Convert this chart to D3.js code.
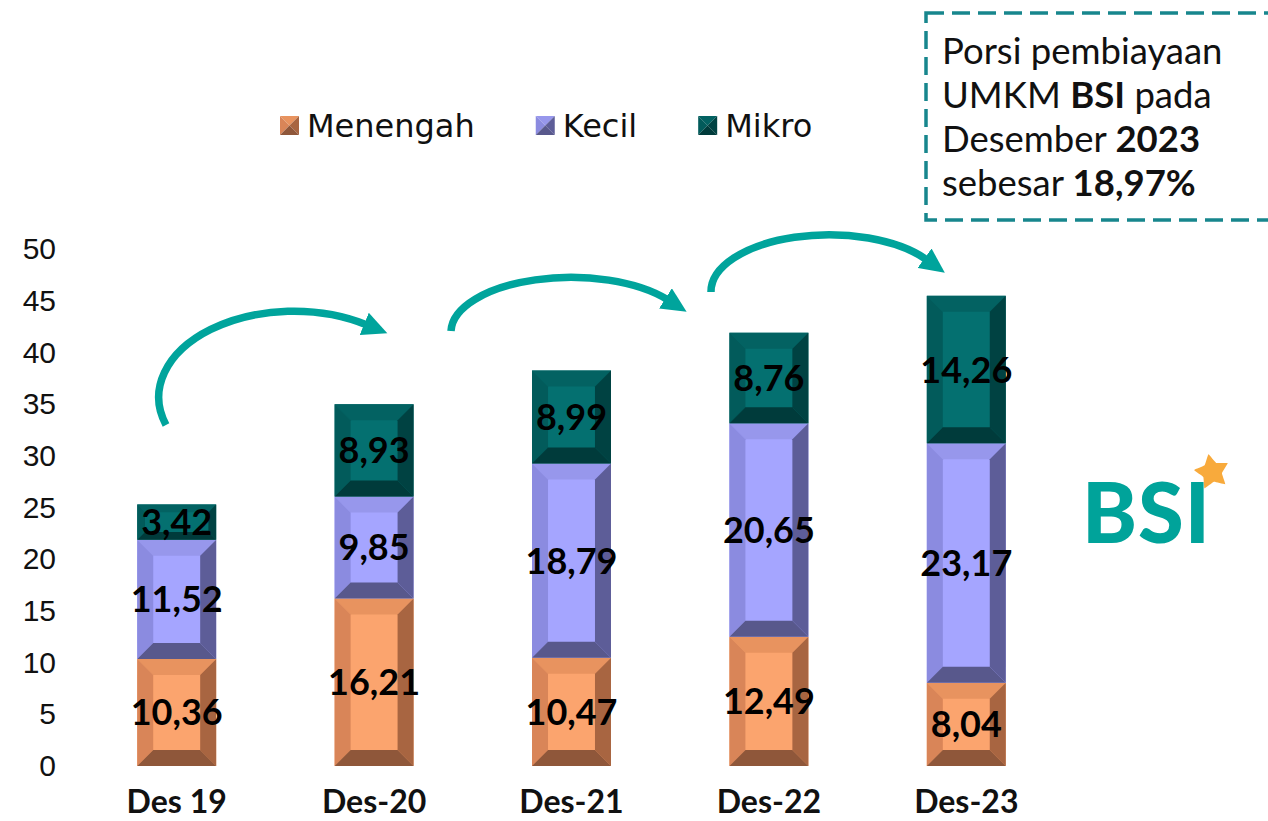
<!DOCTYPE html>
<html>
<head>
<meta charset="utf-8">
<script src="https://cdn.jsdelivr.net/npm/d3@7/dist/d3.min.js"></script>
<style>
  body { margin: 0; background: #fff; }
  svg { display: block; }
</style>
</head>
<body>
<script>
var categories = ['Des 19', 'Des-20', 'Des-21', 'Des-22', 'Des-23'];
var seriesNames = ['Menengah', 'Kecil', 'Mikro'];
var menengah = [10.36, 16.21, 10.47, 12.49, 8.04];
var kecil = [11.52, 9.85, 18.79, 20.65, 23.17];
var mikro = [3.42, 8.93, 8.99, 8.76, 14.26];
var yTicks = [0, 5, 10, 15, 20, 25, 30, 35, 40, 45, 50];

// face, top, left, right, bottom
var PALETTE = {
  Menengah: ['#fba46e', '#e8935f', '#d98558', '#a86541', '#8f573a'],
  Kecil:    ['#a5a5ff', '#9797ec', '#8b8be0', '#5d5d98', '#58588c'],
  Mikro:    ['#047070', '#036262', '#025b5b', '#004242', '#003b3b']
};
var TEAL = '#00a49c';

var W = 1268, H = 821;

var svg = d3.select('body').append('svg')
    .attr('width', W)
    .attr('height', H)
    ;

var x = d3.scaleBand()
    .domain(categories)
    .range([78, 1065])
    .paddingInner(0.6)
    .paddingOuter(0.3)
    ;

var y = d3.scaleLinear()
    .domain([0, 50])
    .range([766, 249])
    ;

// stacked data
var rows = categories.map(function(c, i) {
  return { cat: c, Menengah: menengah[i], Kecil: kecil[i], Mikro: mikro[i] };
});
var stacked = d3.stack().keys(seriesNames)(rows);

function bevelPolys(x0, y0, x1, y1, b) {
  return [
    [[x0, y0], [x1, y0], [x1 - b, y0 + b], [x0 + b, y0 + b]],
    [[x0, y0], [x0 + b, y0 + b], [x0 + b, y1 - b], [x0, y1]],
    [[x1, y0], [x1 - b, y0 + b], [x1 - b, y1 - b], [x1, y1]],
    [[x0, y1], [x1, y1], [x1 - b, y1 - b], [x0 + b, y1 - b]]
  ];
}

function pts(p) {
  return p.map(function(q) { return q.join(','); }).join(' ');
}

var segs = [];
stacked.forEach(function(layer) {
  layer.forEach(function(d) {
    segs.push({ key: layer.key, cat: d.data.cat, lo: d[0], hi: d[1], value: d.data[layer.key] });
  });
});

var bars = svg.append('g').attr('class', 'bars');

segs.forEach(function(s) {
  var x0 = x(s.cat), x1 = x0 + x.bandwidth();
  var y0 = y(s.hi), y1 = y(s.lo);
  var b = Math.min(16, (y1 - y0) * 0.22);
  var cols = PALETTE[s.key];
  var g = bars.append('g');
  g.append('rect')
      .attr('x', x0)
      .attr('y', y0)
      .attr('width', x1 - x0)
      .attr('height', y1 - y0)
      .attr('fill', cols[0])
      ;
  g.selectAll('polygon')
      .data(bevelPolys(x0, y0, x1, y1, b))
      .enter()
      .append('polygon')
      .attr('points', pts)
      .attr('fill', function(p, i) { return cols[i + 1]; })
      ;
});

svg.append('g')
    .selectAll('text')
    .data(segs)
    .enter()
    .append('text')
    .attr('x', function(d) { return x(d.cat) + x.bandwidth() / 2; })
    .attr('y', function(d) { return y((d.lo + d.hi) / 2); })
    .attr('dy', '0.36em')
    .attr('text-anchor', 'middle')
    .style('font-family', 'Lato, sans-serif')
    .style('font-weight', 'bold')
    .style('font-size', '36px')
    .style('fill', '#000')
    .text(function(d) { return d.value.toFixed(2).replace('.', ','); })
    ;

// axes
var yAxis = svg.append('g')
    .attr('transform', 'translate(61,0)')
    .call(d3.axisLeft(y).tickValues(yTicks).tickSize(0).tickPadding(5))
    ;
yAxis.select('.domain').remove();
yAxis.selectAll('text')
    .style('font-family', '"Liberation Sans", Arial, sans-serif')
    .style('font-size', '30px')
    .style('fill', '#111')
    ;

var xAxis = svg.append('g')
    .attr('transform', 'translate(0,766)')
    .call(d3.axisBottom(x).tickSize(0).tickPadding(24))
    ;
xAxis.select('.domain').remove();
xAxis.selectAll('text')
    .style('font-family', 'Lato, sans-serif')
    .style('font-weight', 'bold')
    .style('font-size', '32px')
    .style('fill', '#111')
    ;

// legend
var legend = svg.append('g').attr('class', 'legend');
var lx = 280;
seriesNames.forEach(function(name) {
  var cols = PALETTE[name];
  var s = 19, ly = 116;
  var item = legend.append('g');
  item.selectAll('polygon')
      .data(bevelPolys(lx, ly, lx + s, ly + s, s / 2))
      .enter()
      .append('polygon')
      .attr('points', pts)
      .attr('fill', function(p, i) { return cols[i + 1]; })
      ;
  var t = item.append('text')
      .attr('x', lx + 27)
      .attr('y', 137)
      .style('font-family', '"DejaVu Sans", sans-serif')
      .style('font-size', '32px')
      .style('fill', '#111')
      .text(name)
      ;
  lx = lx + 27 + t.node().getComputedTextLength() + 61;
});

// growth arrows
svg.append('defs').append('marker')
    .attr('id', 'head')
    .attr('markerUnits', 'userSpaceOnUse')
    .attr('viewBox', '0 -12 26 24')
    .attr('markerWidth', 26)
    .attr('markerHeight', 24)
    .attr('refX', 3)
    .attr('refY', 0)
    .attr('orient', 'auto')
  .append('path')
    .attr('d', 'M0,-12L25,0L0,12Z')
    .attr('fill', TEAL)
    ;

var arrows = [
  { s: [166, 425], e: [367, 325], rx: 135, ry: 86 },
  { s: [451, 331], e: [668, 300], rx: 120, ry: 55 },
  { s: [711, 292], e: [927, 260], rx: 118, ry: 57 }
];
svg.append('g')
    .selectAll('path')
    .data(arrows)
    .enter()
    .append('path')
    .attr('d', function(a) {
      return 'M' + a.s[0] + ',' + a.s[1] + ' A' + a.rx + ',' + a.ry + ' 0 0 1 ' + a.e[0] + ',' + a.e[1];
    })
    .attr('fill', 'none')
    .attr('stroke', TEAL)
    .attr('stroke-width', 7.5)
    .attr('marker-end', 'url(#head)')
    ;

// note box
svg.append('rect')
    .attr('x', 926)
    .attr('y', 13)
    .attr('width', 370)
    .attr('height', 207)
    .attr('fill', 'none')
    .attr('stroke', '#17868d')
    .attr('stroke-width', 3.5)
    .attr('stroke-dasharray', '18 8')
    ;

var noteLines = [
  [['Porsi pembiayaan', false]],
  [['UMKM ', false], ['BSI', true], [' pada', false]],
  [['Desember ', false], ['2023', true]],
  [['sebesar ', false], ['18,97%', true]]
];
var note = svg.append('text')
    .style('font-family', 'Lato, sans-serif')
    .style('font-size', '36.5px')
    .style('fill', '#111')
    ;
noteLines.forEach(function(line, i) {
  line.forEach(function(part, j) {
    var ts = note.append('tspan')
        .style('font-weight', part[1] ? 'bold' : 'normal')
        .text(part[0])
        ;
    if (j === 0) ts.attr('x', 942).attr('y', 64 + i * 44);
  });
});

// BSI logo
var logo = svg.append('g');
logo.append('text')
    .attr('x', 1082)
    .attr('y', 543)
    .style('font-family', 'Lato, sans-serif')
    .style('font-weight', 900)
    .style('font-size', '83px')
    .style('letter-spacing', '1px')
    .style('fill', '#00a39a')
    .text('BSI')
    ;
var starPts = d3.range(10).map(function(i) {
  var r = i % 2 === 0 ? 18 : 10;
  var a = -Math.PI / 2 + i * Math.PI / 5 - 0.2;
  return [1212 + r * Math.cos(a), 472 + r * Math.sin(a)];
});
logo.append('path')
    .attr('d', d3.line().curve(d3.curveCardinalClosed.tension(0.75))(starPts))
    .attr('fill', '#f8aa3c')
    ;
</script>
</body>
</html>
